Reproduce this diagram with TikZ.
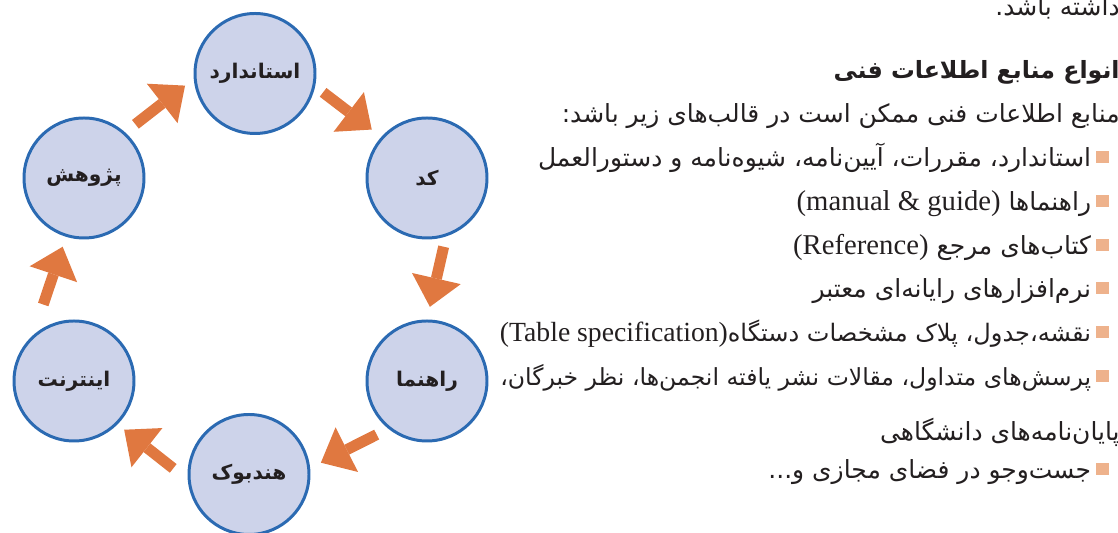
\documentclass[tikz,border=0pt]{standalone}
\usepackage{fontspec}
\usetikzlibrary{arrows.meta}
\TeXXeTstate=1
\newfontfamily\fafont[Script=Arabic]{DejaVu Sans}
\newfontfamily\enfont[Scale=1.15]{Liberation Serif}
\definecolor{ringfill}{RGB}{205,211,234}
\definecolor{ringline}{RGB}{43,106,178}
\definecolor{flowc}{RGB}{224,120,64}
\definecolor{bulletc}{RGB}{238,178,140}
\definecolor{ink}{RGB}{35,31,32}
\newcommand{\blt}{\hspace{3pt}\textcolor{bulletc}{\rule[2pt]{7pt}{7pt}}}
\newcommand{\en}[1]{\beginL{\enfont #1}\endL}
\newcommand{\fa}[1]{\beginR #1\endR}

\begin{document}
\begin{tikzpicture}[
    src/.style={circle, draw=ringline, fill=ringfill, line width=1.7pt, minimum size=2.4cm, inner sep=0pt,
      text=ink, font=\fafont\bfseries\fontsize{11.5}{12}\selectfont},
    flow/.style={draw=flowc, line width=0.22cm, -{Triangle[width=1cm, length=0.58cm, line width=0pt]}},
    txt/.style={anchor=base east, inner sep=0pt, text=ink, font=\fafont\fontsize{14.2}{15}\selectfont}
  ]
  \useasboundingbox (0,0) rectangle (22.36,10.66);
  \clip (0,0) rectangle (22.36,10.66);

  % the ring of sources
  \node[src] (std) at (5.10,9.19) {\fa{استاندارد}};
  \node[src] (kod) at (8.54,7.10) {\fa{کد}};
  \node[src] (rah) at (8.54,3.04) {\fa{راهنما}};
  \node[src] (hnd) at (4.98,1.17) {\fa{هندبوک}};
  \node[src] (int) at (1.48,3.04) {\fa{اینترنت}};
  \node[src] (pzh) at (1.68,7.10) {\fa{پژوهش}};

  \draw[flow, shorten <=0.26cm, shorten >=0.22cm] (pzh.48.6) -- (std.185.4);
  \draw[flow, shorten <=0.20cm, shorten >=0.24cm] (std.-12.7) -- (kod.138.4);
  \draw[flow, shorten <=0.21cm, shorten >=0.26cm] (kod.-72.6) -- (rah.90.8);
  \draw[flow, shorten <=0.26cm, shorten >=0.24cm] (rah.231.7) -- (hnd.6.3);
  \draw[flow, shorten <=0.37cm, shorten >=0.17cm] (hnd.185.1) -- (int.-45.3);
  \draw[flow, shorten <=0.65cm, shorten >=0.21cm] (int.132.6) -- (pzh.253.5);

  % the text on the right
  \node[txt] (t0) at (22.40,10.34) {\fa{داشته باشد.}};
  \node[txt, font=\fafont\bfseries\fontsize{13.5}{14}\selectfont] (head) at (22.40,9.08) {\fa{انواع منابع اطلاعات فنی}};
  \node[txt] (intro) at (22.40,8.20) {\fa{منابع اطلاعات فنی ممکن است در قالب‌های زیر باشد:}};
  \node[txt] (l1) at (22.18,7.32) {\fa{استاندارد، مقررات، آیین‌نامه، شیوه‌نامه و دستورالعمل}\blt};
  \node[txt] (l2) at (22.18,6.44) {\fa{راهنماها \en{(manual \& guide)}}\blt};
  \node[txt] (l3) at (22.18,5.56) {\fa{کتاب‌های مرجع \en{(Reference)}}\blt};
  \node[txt] (l4) at (22.18,4.70) {\fa{نرم‌افزارهای رایانه‌ای معتبر}\blt};
  \node[txt, font=\fafont\fontsize{13.7}{15}\selectfont] (l5) at (22.18,3.82) {\fa{نقشه،جدول، پلاک مشخصات دستگاه\en{(Table specification)}}\blt};
  \node[txt, font=\fafont\fontsize{13.4}{15}\selectfont] (l6) at (22.18,2.94) {\fa{پرسش‌های متداول، مقالات نشر یافته انجمن‌ها، نظر خبرگان،}\blt};
  \node[txt] (l7) at (22.40,1.84) {\fa{پایان‌نامه‌های دانشگاهی}};
  \node[txt] (l8) at (22.18,1.08) {\fa{جست‌وجو در فضای مجازی و...}\blt};
\end{tikzpicture}
\end{document}
